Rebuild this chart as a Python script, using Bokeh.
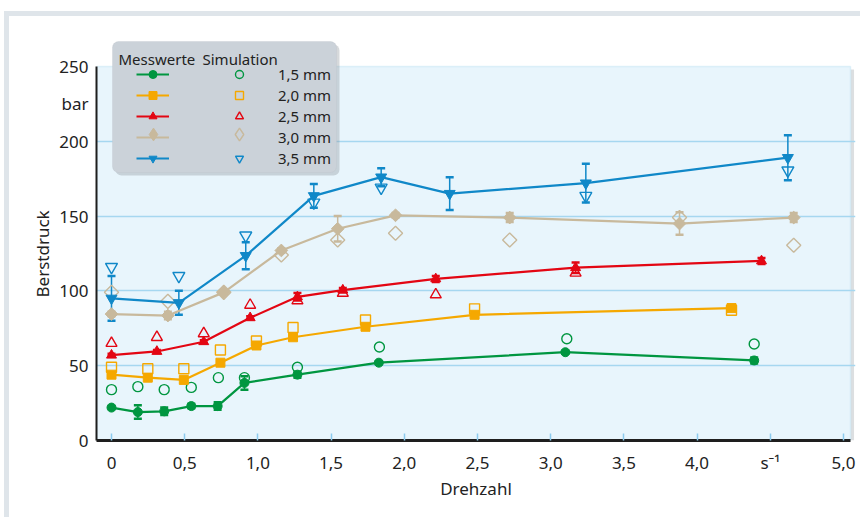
import math
from bokeh.plotting import figure
from bokeh.layouts import column, row
from bokeh.models import (ColumnDataSource, FixedTicker, BoxAnnotation, Label, Legend,
                          LegendItem, Whisker, TeeHead, Range1d, Spacer, Title)
from bokeh.embed import file_html
from bokeh.resources import INLINE

# ---------------- data ----------------
# 1,5 mm
x15 = [0, 0.18, 0.36, 0.545, 0.725, 0.908, 1.27, 1.826, 3.10, 4.39]
m15 = [22, 19, 19.5, 23, 23, 38.5, 44, 52, 59, 53.5]
e15 = [1, 4.5, 2.5, 1.5, 2.5, 4.5, 2, 1, 1, 2]
sx15 = [0, 0.18, 0.36, 0.545, 0.73, 0.908, 1.27, 1.83, 3.11, 4.39]
s15 = [34, 36, 34, 35.5, 42, 42, 49, 62.5, 68, 64.5]
# 2,0 mm
x20 = [0, 0.248, 0.494, 0.744, 0.99, 1.24, 1.735, 2.48, 4.235]
m20 = [44, 42, 40.5, 52, 63.5, 69, 76, 84, 88.5]
e20 = [0, 0, 0, 0, 0, 0, 0, 0, 1.5]
sx20 = [0, 0.248, 0.494, 0.744, 0.99, 1.24, 1.735, 2.48, 4.235]
s20 = [49, 48, 48, 60.5, 66.5, 75.5, 80.5, 88, 87]
# 2,5 mm
x25 = [0, 0.31, 0.63, 0.947, 1.27, 1.58, 2.215, 3.17, 4.44]
m25 = [57, 59.5, 66, 82, 96, 100.5, 108, 115.5, 120]
e25 = [1, 1, 1, 1, 2.5, 1.5, 2, 3.5, 2]
sx25 = [0, 0.31, 0.63, 0.947, 1.27, 1.58, 2.215, 3.17]
s25 = [65, 69, 71.5, 90.5, 93.5, 98.5, 97.5, 112]
# 3,0 mm
x30 = [0, 0.385, 0.767, 1.16, 1.545, 1.94, 2.72, 3.88, 4.66]
m30 = [84.5, 83.5, 99, 127, 141.5, 150.5, 149, 145, 149]
e30 = [1.5, 2.5, 1, 1.5, 8.5, 1.5, 3, 7.5, 3]
sx30 = [0, 0.385, 0.767, 1.16, 1.545, 1.94, 2.72, 3.88, 4.66]
s30 = [99, 93, 99, 124, 134, 138.5, 134, 149, 130.5]
# 3,5 mm
x35 = [0, 0.46, 0.917, 1.382, 1.842, 2.31, 3.24, 4.62]
m35 = [95, 92, 123.5, 163.5, 176, 165, 172, 189]
e35 = [15, 8, 9, 8, 6, 11, 13, 15]
sx35 = [0, 0.46, 0.917, 1.382, 1.842, 3.24, 4.62]
s35 = [116, 110, 137, 159, 169, 163.5, 180.5]

series_labels = ["1,5 mm", "2,0 mm", "2,5 mm", "3,0 mm", "3,5 mm"]
colors = ["#009640", "#f5a800", "#e30613", "#c8b99c", "#1088c8"]

x_ticks = [0, 0.5, 1, 1.5, 2, 2.5, 3, 3.5, 4, 4.5, 5]
x_tick_labels = ["0", "0,5", "1,0", "1,5", "2,0", "2,5", "3,0", "3,5", "4,0", "s\u207b\u00b9", "5,0"]
y_ticks = [0, 50, 100, 150, 200, 225, 250]
y_tick_labels = ["0", "50", "100", "150", "200", "bar", "250"]

FONT = "Noto Sans"
TXT = "#222222"
BG = "#e8f5fc"
GRID = "#a6d7f0"
STRIP = "#dfe5ea"

# ---------------- figure ----------------
p = figure(width=851, height=501, x_range=Range1d(-0.1025, 5.082), y_range=Range1d(0, 270),
           output_backend="svg", toolbar_location=None,
           min_border_left=87, min_border_right=5, min_border_top=20, min_border_bottom=77)
p.background_fill_color = "white"
p.border_fill_color = "white"
p.outline_line_color = None

# plot area background
p.add_layout(BoxAnnotation(left=5.048, right=5.072, bottom=0, top=248, fill_color="#9aa3aa",
                           fill_alpha=0.35, line_color=None, level="image"))
p.add_layout(BoxAnnotation(bottom=0, top=250, right=5.048, fill_color=BG, fill_alpha=1,
                           line_color=GRID, line_width=1.5, level="image"))

# axes
p.xaxis.ticker = FixedTicker(ticks=x_ticks)
p.xaxis.major_label_overrides = {t: l for t, l in zip(x_ticks, x_tick_labels)}
p.xaxis.axis_label = "Drehzahl"
p.xaxis.axis_line_color = "#1e1e1e"
p.xaxis.axis_line_width = 3
p.xaxis.major_tick_in = 7
p.xaxis.major_tick_out = 0
p.xaxis.major_tick_line_color = "#8ccbee"
p.xaxis.major_tick_line_width = 1.5
p.xaxis.minor_tick_line_color = None
p.xaxis.major_label_standoff = 10
p.xaxis.axis_label_standoff = 0
p.xaxis.bounds = (-0.1025, 5.048)

p.yaxis.ticker = FixedTicker(ticks=y_ticks)
p.yaxis.major_label_overrides = {t: l for t, l in zip(y_ticks, y_tick_labels)}
p.yaxis.bounds = (0, 250)
p.yaxis.axis_line_color = "#1e1e1e"
p.yaxis.axis_line_width = 2
p.yaxis.major_tick_line_color = None
p.yaxis.minor_tick_line_color = None
p.yaxis.major_label_standoff = 2

for ax in (p.xaxis, p.yaxis):
    ax.major_label_text_font = FONT
    ax.major_label_text_font_size = "17px"
    ax.major_label_text_color = TXT
    ax.axis_label_text_font = FONT
    ax.axis_label_text_font_size = "17px"
    ax.axis_label_text_font_style = "normal"
    ax.axis_label_text_color = TXT

p.xgrid.visible = False
p.ygrid.ticker = FixedTicker(ticks=[50, 100, 150, 200])
p.ygrid.grid_line_color = GRID
p.ygrid.grid_line_width = 1.5

p.add_layout(Title(text="Berstdruck", align="left", offset=143, standoff=6,
                   text_font=FONT, text_font_size="17px", text_font_style="normal",
                   text_color=TXT), "left")

# ---------------- series ----------------
meas = [(x15, m15, e15), (x20, m20, e20), (x25, m25, e25), (x30, m30, e30), (x35, m35, e35)]
sims = [(sx15, s15), (sx20, s20), (sx25, s25), (sx30, s30), (sx35, s35)]
markers = ["circle", "square", "triangle", "square", "inverted_triangle"]
angles = [0, 0, 0, math.pi / 4, 0]
fsizes = [9, 9, 10, 9, 11]
osizes = [10, 10, 11, 10, 12]

items_m, items_s = [], []
diamond_proxies = None
for (xm, ym, em), (xs, ys), col, mk, ang, fs, os_ in zip(meas, sims, colors, markers, angles, fsizes, osizes):
    wx = [x for x, e in zip(xm, em) if e > 0]
    wl = [y - e for y, e in zip(ym, em) if e > 0]
    wu = [y + e for y, e in zip(ym, em) if e > 0]
    wsrc = ColumnDataSource(dict(x=wx, lower=wl, upper=wu))
    p.add_layout(Whisker(source=wsrc, base="x", lower="lower", upper="upper", dimension="height",
                         line_color=col, line_width=1.5, level="underlay",
                         upper_head=TeeHead(size=8, line_color=col, line_width=2.5),
                         lower_head=TeeHead(size=8, line_color=col, line_width=2.5)))
    ssrc = ColumnDataSource(dict(x=xs, y=ys))
    so = p.scatter("x", "y", source=ssrc, marker=mk, angle=ang, size=os_, fill_color=None,
                   line_color=col, line_width=1.4)
    msrc = ColumnDataSource(dict(x=xm, y=ym))
    ln = p.line("x", "y", source=msrc, line_color=col, line_width=2.2)
    sf = p.scatter("x", "y", source=msrc, marker=mk, angle=ang, size=fs, fill_color=col,
                   line_color=col, line_width=1)
    if ang:
        # legend-only proxies (legend glyphs are drawn unrotated): a single non-drawn NaN row
        nan_src = ColumnDataSource(dict(x=[float("nan")], y=[float("nan")]))
        pf = p.scatter("x", "y", source=nan_src, marker="diamond", size=13,
                       fill_color=col, line_color=col)
        po = p.scatter("x", "y", source=nan_src, marker="diamond", size=14,
                       fill_color=None, line_color=col, line_width=1.4)
        hold = p.scatter("x", "y", source=nan_src, marker="diamond", size=1,
                         fill_alpha=0, line_alpha=0)
        diamond_proxies = (pf, po)
        items_m.append((ln,))
        items_s.append(hold)
    else:
        items_m.append((ln, sf))
        items_s.append(so)

# ---------------- legend ----------------
p.add_layout(BoxAnnotation(left=19, right=243, top=396, bottom=265,
                           left_units="screen", right_units="screen", top_units="screen",
                           bottom_units="screen", fill_color="#8a9198", fill_alpha=0.35,
                           line_color=None, border_radius=6, level="annotation"))
p.add_layout(BoxAnnotation(left=16, right=240, top=399, bottom=268,
                           left_units="screen", right_units="screen", top_units="screen",
                           bottom_units="screen", fill_color="#cbd2d9", fill_alpha=1,
                           line_color="#bcc3ca", line_width=1, border_radius=6, level="annotation"))

p.add_layout(Label(x=22, y=381.5, x_units="screen", y_units="screen", text="Messwerte",
                   text_font=FONT, text_font_size="15px", text_color=TXT,
                   text_baseline="alphabetic", level="overlay"))
p.add_layout(Label(x=106, y=381.5, x_units="screen", y_units="screen", text="Simulation",
                   text_font=FONT, text_font_size="15px", text_color=TXT,
                   text_baseline="alphabetic", level="overlay"))

common = dict(padding=0, margin=0, background_fill_alpha=0, border_line_color=None, level="overlay")
leg_m = Legend(items=[LegendItem(label="", renderers=list(r)) for r in items_m],
               location=(40, 272.5), spacing=1, glyph_width=33,
               glyph_height=20, label_height=20, label_width=0, label_standoff=0, **common)
leg_s = Legend(items=[LegendItem(label=l, renderers=[r]) for l, r in zip(series_labels, items_s)],
               location=(133, 272.5), spacing=1, glyph_width=20,
               glyph_height=20, label_height=20, label_standoff=29,
               label_text_font=FONT, label_text_font_size="15px", label_text_color=TXT, **common)
# larger diamond glyphs for the 3,0 mm row
leg_d1 = Legend(items=[LegendItem(label="", renderers=[diamond_proxies[0]])],
                location=(40.5, 290.5), glyph_width=32, glyph_height=32, label_height=32,
                label_width=0, label_standoff=0, **common)
leg_d2 = Legend(items=[LegendItem(label="", renderers=[diamond_proxies[1]])],
                location=(127, 290.5), glyph_width=32, glyph_height=32, label_height=32,
                label_width=0, label_standoff=0, **common)
for lg in (leg_m, leg_s, leg_d1, leg_d2):
    p.add_layout(lg, "center")

# ---------------- page frame (grey L-shaped panel border) ----------------
layout = column(
    Spacer(width=860, height=11),
    row(Spacer(width=4, height=506),
        Spacer(width=5, height=506, styles={"background-color": STRIP}),
        column(Spacer(width=851, height=5, styles={"background-color": STRIP}), p)),
)

open("out.html", "w").write(file_html(layout, INLINE))
